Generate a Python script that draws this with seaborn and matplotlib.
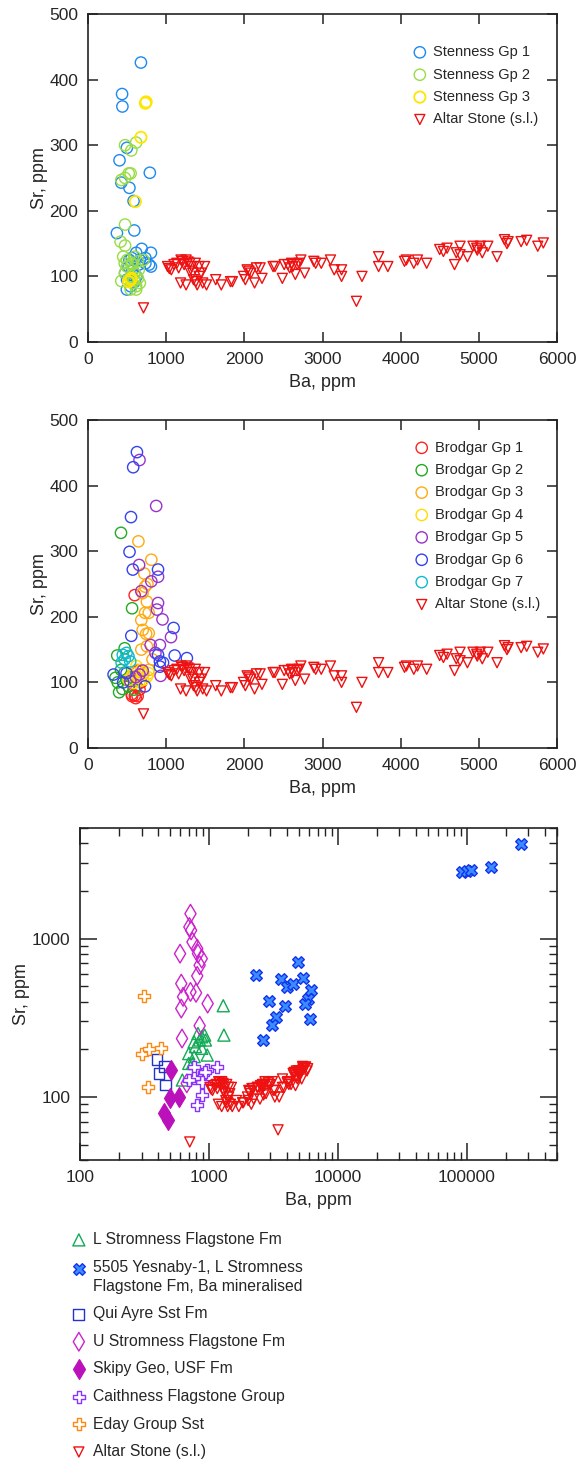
import numpy as np
import pandas as pd
import matplotlib
matplotlib.use("Agg")
import matplotlib.pyplot as plt
import seaborn as sns
from matplotlib.ticker import (FixedLocator, LogLocator, NullFormatter,
                               FuncFormatter, MultipleLocator)

sns.set_style("white")
plt.rcParams['font.family'] = ['Liberation Sans', 'DejaVu Sans']

# ---------------- Altar Stone (shared by all panels) ----------------
altar_ba = [710, 1018, 1066, 1137, 1208, 1255, 1302, 1326, 1373, 1421,
            1492, 1184, 1255, 1350, 1397, 1421, 1468, 1516, 1634, 1705,
            1823, 1847, 1989, 2013, 2036, 2084, 2131, 2155, 2202, 2226,
            2368, 2392, 2486, 2510, 2557, 2605, 2652, 2676, 2723, 2771,
            2889, 2913, 2984, 3102, 3150, 3244, 3244, 3434, 3505, 3718,
            3718, 3836, 4049, 4073, 4168, 4215, 4333, 4499, 4547, 4594,
            4689, 4712, 4760, 4760, 4854, 4925, 4973, 5020, 5044, 5115,
            5233, 5328, 5375, 5541, 5612, 5754, 5825, 1100, 1160, 1230,
            1280, 1340, 1300, 1450, 1380, 1190, 1040, 2060, 2580, 2620,
            2700, 4980, 5360]
altar_sr = [52, 115, 110, 120, 123, 125, 120, 115, 120, 115,
            115, 90, 87, 95, 87, 100, 90, 87, 95, 87,
            92, 92, 100, 95, 110, 105, 90, 113, 113, 97,
            115, 115, 97, 118, 118, 120, 103, 118, 125, 105,
            123, 120, 120, 125, 110, 110, 100, 62, 100, 130,
            115, 115, 123, 125, 120, 125, 120, 141, 138, 143,
            118, 136, 146, 133, 130, 146, 143, 146, 136, 146,
            130, 156, 153, 153, 155, 146, 151, 118, 113, 118,
            122, 105, 108, 105, 92, 125, 112, 108, 113, 115,
            120, 140, 150]

# ---------------- Panel 1: Stenness ----------------
sten1_ba = [677, 436, 440, 497, 403, 791, 426, 530, 583, 370, 592, 687, 805,
            781, 805, 616, 497, 545, 530, 663, 734, 474, 568, 734, 500, 620,
            650, 520, 560, 600]
sten1_sr = [426, 378, 359, 296, 277, 258, 243, 235, 215, 166, 170, 142, 136,
            118, 115, 136, 80, 85, 125, 125, 128, 105, 110, 120, 95, 100,
            118, 115, 128, 92]
sten2_ba = [474, 616, 554, 521, 474, 426, 545, 474, 417, 474, 450, 426, 497,
            568, 639, 710, 545, 639, 616, 521, 592, 474, 663, 568, 545, 616,
            500, 600, 560, 650, 470, 590]
sten2_sr = [300, 304, 292, 257, 250, 247, 257, 179, 153, 147, 130, 93, 115,
            118, 123, 125, 100, 97, 85, 92, 105, 105, 90, 90, 80, 80,
            125, 130, 120, 110, 120, 95]
sten3_ba = [744, 734, 677, 606, 545, 554, 521]
sten3_sr = [366, 364, 312, 214, 95, 97, 92]

# ---------------- Panel 2: Brodgar ----------------
brod1_ba = [597, 564, 635, 611, 540, 659, 635, 600, 560, 620, 680]
brod1_sr = [233, 79, 79, 76, 109, 89, 117, 80, 82, 95, 100]
brod2_ba = [422, 564, 374, 469, 398, 351, 422, 517, 493, 588, 440, 380, 470]
brod2_sr = [328, 213, 141, 152, 85, 107, 119, 94, 104, 89, 90, 100, 115]
brod3_ba = [645, 810, 720, 730, 697, 754, 730, 777, 682, 744, 777, 682, 754,
            825, 635, 706, 777, 588, 760, 700]
brod3_sr = [315, 287, 266, 246, 236, 223, 206, 206, 195, 174, 175, 150, 155,
            135, 119, 114, 119, 114, 250, 180]
brod4_ba = [635, 706, 754, 588, 517, 682, 777, 659, 620, 560]
brod4_sr = [109, 104, 109, 99, 104, 119, 114, 102, 125, 110]
brod5_ba = [659, 872, 654, 896, 810, 682, 896, 882, 953, 1062, 801, 920, 863,
            929, 659, 540, 700, 610]
brod5_sr = [439, 369, 279, 261, 254, 239, 221, 211, 196, 169, 157, 157, 145,
            110, 112, 102, 118, 108]
brod6_ba = [626, 578, 550, 531, 573, 896, 554, 1095, 1109, 1265, 920, 896,
            920, 327, 730, 493, 450, 960]
brod6_sr = [451, 428, 352, 299, 272, 272, 171, 183, 141, 137, 132, 142,
            124, 112, 94, 114, 100, 130]
brod7_ba = [445, 493, 517, 469, 540, 430]
brod7_sr = [142, 145, 140, 135, 132, 130]

# ---------------- Panel 3: Orcadian Basin ----------------
lsf_ba = [1291, 1306, 622, 822, 879, 939, 768, 786, 697, 970, 768, 697, 745,
          847, 926, 879]
lsf_sr = [377, 246, 128, 252, 240, 229, 223, 208, 188, 184, 180, 163, 163,
          229, 246, 203]
yes_ba = [263000, 154600, 92000, 99600, 108600, 2303, 4943, 3597, 3997, 4477,
          5395, 6240, 5838, 5572, 2905, 3918, 3321, 3106, 2630, 6110]
yes_sr = [3970, 2830, 2630, 2670, 2700, 587, 713, 554, 495, 518,
          565, 477, 418, 386, 403, 377, 321, 284, 229, 312]
qui_ba = [396, 410, 452, 461]
qui_sr = [173, 141, 155, 119]
usf_ba = [719, 705, 727, 745, 811, 822, 879, 847, 811, 597, 610, 630, 610,
          719, 794, 977, 618, 847, 673]
usf_sr = [1438, 1185, 1128, 953, 865, 804, 748, 679, 582, 804, 520, 429, 362,
          461, 455, 389, 234, 282, 122]
skipy_ba = [509, 499, 582, 446, 483]
skipy_sr = [148, 98, 100, 79, 72]
caith_ba = [1161, 970, 768, 847, 939, 879, 768, 697, 879, 811]
caith_sr = [155, 148, 155, 134, 144, 125, 131, 128, 103, 89]
eday_ba = [314, 303, 340, 423, 335]
eday_sr = [436, 188, 200, 203, 115]

ALTAR_RED = '#ee1111'

fig = plt.figure(figsize=(5.82, 14.59), dpi=100)
W, H = 582.0, 1459.0
ax1 = fig.add_axes([88 / W, 1 - 342 / H, 469 / W, 328 / H])
ax2 = fig.add_axes([88 / W, 1 - 748 / H, 469 / W, 328 / H])
ax3 = fig.add_axes([80 / W, 1 - 1160 / H, 477 / W, 332 / H])


def pts(ax, x, y, marker, color, s, label, face='none', edge=None, lw=1.0, z=2):
    edge = color if edge is None else edge
    coll_before = len(ax.collections)
    sns.scatterplot(x=x, y=y, ax=ax, marker=marker, s=s, color=color,
                    facecolor=face, edgecolor=edge, linewidth=lw,
                    label=label, zorder=z, legend=False)
    return ax.collections[coll_before]


# Panel 1
h1 = []
h1.append(pts(ax1, sten1_ba, sten1_sr, 'o', '#1e88f0', 66, 'Stenness Gp 1'))
h1.append(pts(ax1, sten2_ba, sten2_sr, 'o', '#99dd44', 66, 'Stenness Gp 2'))
h1.append(pts(ax1, sten3_ba, sten3_sr, 'o', '#ffe600', 66, 'Stenness Gp 3', lw=1.3))
h1.append(pts(ax1, altar_ba, altar_sr, 'v', ALTAR_RED, 52, 'Altar Stone (s.l.)'))

# Panel 2
h2 = []
h2.append(pts(ax2, brod1_ba, brod1_sr, 'o', '#ff2222', 66, 'Brodgar Gp 1'))
h2.append(pts(ax2, brod2_ba, brod2_sr, 'o', '#22aa22', 66, 'Brodgar Gp 2'))
h2.append(pts(ax2, brod3_ba, brod3_sr, 'o', '#ffaa11', 66, 'Brodgar Gp 3'))
h2.append(pts(ax2, brod4_ba, brod4_sr, 'o', '#ffdd00', 66, 'Brodgar Gp 4'))
h2.append(pts(ax2, brod5_ba, brod5_sr, 'o', '#9933cc', 66, 'Brodgar Gp 5'))
h2.append(pts(ax2, brod6_ba, brod6_sr, 'o', '#3344ee', 66, 'Brodgar Gp 6'))
h2.append(pts(ax2, brod7_ba, brod7_sr, 'o', '#11bbcc', 66, 'Brodgar Gp 7'))
h2.append(pts(ax2, altar_ba, altar_sr, 'v', ALTAR_RED, 52, 'Altar Stone (s.l.)'))

# Panel 3
h3 = []
h3.append(pts(ax3, lsf_ba, lsf_sr, '^', '#11aa55', 75, 'L Stromness Flagstone Fm'))
h3.append(pts(ax3, yes_ba, yes_sr, 'X', '#1133ee', 70,
              '5505 Yesnaby-1, L Stromness\nFlagstone Fm, Ba mineralised',
              face='#3a8cff', edge='#1133ee', lw=1.0))
h3.append(pts(ax3, qui_ba, qui_sr, 's', '#2233cc', 60, 'Qui Ayre Sst Fm'))
h3.append(pts(ax3, usf_ba, usf_sr, 'd', '#cc22cc', 90, 'U Stromness Flagstone Fm'))
h3.append(pts(ax3, skipy_ba, skipy_sr, 'd', '#bb11bb', 100, 'Skipy Geo, USF Fm',
              face='#bb11bb'))
h3.append(pts(ax3, caith_ba, caith_sr, 'P', '#8833ff', 70, 'Caithness Flagstone Group',
              face='white'))
h3.append(pts(ax3, eday_ba, eday_sr, 'P', '#ff8811', 70, 'Eday Group Sst',
              face='white'))
h3.append(pts(ax3, altar_ba, altar_sr, 'v', ALTAR_RED, 52, 'Altar Stone (s.l.)'))
for h in h3[5:7]:
    h.set_joinstyle('round')

SPINE = '#222222'
for ax in (ax1, ax2, ax3):
    for sp in ax.spines.values():
        sp.set_color(SPINE)
        sp.set_linewidth(1.2)
    ax.set_xlabel('Ba, ppm', fontsize=13, labelpad=5)
    ax.set_ylabel('Sr, ppm', fontsize=13, labelpad=1)

for ax in (ax1, ax2):
    ax.set_xlim(0, 6000)
    ax.set_ylim(0, 500)
    ax.xaxis.set_major_locator(MultipleLocator(1000))
    ax.yaxis.set_major_locator(MultipleLocator(100))
    ax.tick_params(which='major', direction='in', length=7, width=1.1,
                   bottom=True, left=True, top=True, right=True,
                   labelsize=12.5, pad=7, color=SPINE)

ax3.set_xscale('log')
ax3.set_yscale('log')
ax3.set_xlim(100, 500000)
ax3.set_ylim(40, 5000)
fmt = FuncFormatter(lambda v, p: f"{v:.0f}")
ax3.xaxis.set_major_locator(FixedLocator([100, 1000, 10000, 100000]))
ax3.xaxis.set_minor_locator(LogLocator(base=10, subs=np.arange(2, 10), numticks=30))
ax3.xaxis.set_major_formatter(fmt)
ax3.xaxis.set_minor_formatter(NullFormatter())
ax3.yaxis.set_major_locator(FixedLocator([100, 1000]))
ax3.yaxis.set_minor_locator(LogLocator(base=10, subs=np.arange(2, 10), numticks=30))
ax3.yaxis.set_major_formatter(fmt)
ax3.yaxis.set_minor_formatter(NullFormatter())
ax3.tick_params(which='major', direction='in', length=12, width=1.1,
                bottom=True, left=True, top=True, right=True,
                labelsize=12.5, pad=7, color=SPINE)
ax3.tick_params(which='minor', direction='in', length=6, width=1.0,
                bottom=True, left=True, top=True, right=True, color=SPINE)

leg_kw = dict(frameon=False, handlelength=1.0, handletextpad=0.4,
              borderpad=0, borderaxespad=0, scatterpoints=1)
ax1.legend(handles=h1, loc='upper left', bbox_to_anchor=(0.692, 0.905),
           fontsize=10.5, labelspacing=0.575, **leg_kw)
ax2.legend(handles=h2, loc='upper left', bbox_to_anchor=(0.696, 0.937),
           fontsize=10.5, labelspacing=0.575, **leg_kw)
leg3 = ax3.legend(handles=h3, loc='upper left',
                  bbox_to_anchor=(71 / W, 1 - 1232 / H),
                  bbox_transform=fig.transFigure,
                  fontsize=11.3, labelspacing=0.8, **leg_kw)
leg3.get_texts()[1].set_linespacing(1.35)
# align the Yesnaby marker with the first line of its two-line label
yh = leg3.legend_handles[1]
off = np.asarray(yh.get_offsets(), dtype=float)
off[:, 1] += 7.0
yh.set_offsets(off)

fig.savefig('out.png', dpi=100)
